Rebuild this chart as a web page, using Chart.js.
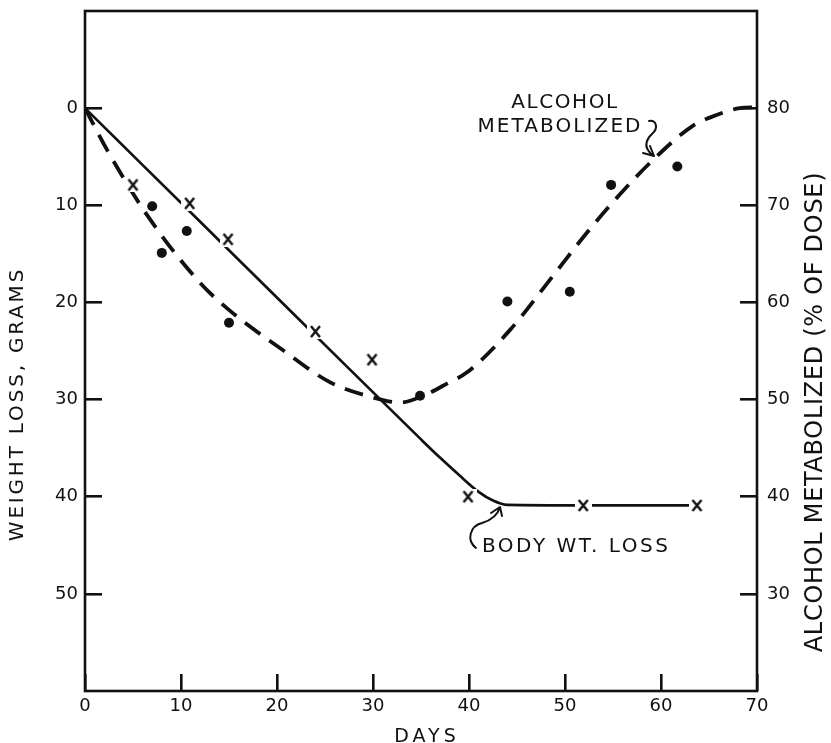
<!DOCTYPE html>
<html>
<head>
<meta charset="utf-8">
<title>Weight loss and alcohol metabolized</title>
<script src="https://cdn.jsdelivr.net/npm/chart.js@4/dist/chart.umd.min.js"></script>
<style>
  html, body { margin: 0; padding: 0; background: #fff; }
  canvas { display: block; }
</style>
</head>
<body>
<canvas id="chart" width="831" height="743"></canvas>
<script>
// Days on which body weight was recorded, and cumulative loss (grams)
const weightDays = [5.0, 10.9, 14.9, 24.0, 29.9, 39.9, 51.9, 63.75];
const weightLoss = [7.9, 9.8, 13.5, 23.0, 25.9, 40.0, 40.9, 40.9];

// Days on which alcohol metabolism was measured (% of dose)
const alcoholDays = [7.0, 8.0, 10.6, 15.0, 34.9, 44.0, 50.5, 54.8, 61.7];
const alcoholPct  = [69.9, 65.1, 67.35, 57.9, 50.4, 60.1, 61.1, 72.1, 74.0];

// Hand-drawn trend through the weight-loss readings
const weightCurveDays = [0, 12, 24, 35, 37, 39, 41, 42.5, 44, 52, 63.75];
const weightCurveLoss = [0, 11.7, 23.4, 34.1, 36.0, 37.8, 39.5, 40.4, 40.85, 40.9, 40.9];

// Hand-drawn trend through the alcohol readings
const alcoholCurveDays = [0, 2.3, 6.6, 12.0, 15.4, 20.6, 25.5, 29.7, 32.8, 35.9, 37.8, 39.8, 44.3, 48.8, 52.3, 55.7, 59.2, 63.2, 65.8, 68.2, 70];
const alcoholCurvePct  = [80, 75.7, 68.8, 62.0, 58.9, 55.1, 51.8, 50.3, 49.7, 50.7, 51.7, 52.8, 57.2, 62.8, 67.2, 71.1, 74.7, 78.1, 79.3, 80.0, 80.1];

// Axis ticks
const dayTicks     = [0, 10, 20, 30, 40, 50, 60, 70];
const weightTicks  = [0, 10, 20, 30, 40, 50];
const alcoholTicks = [30, 40, 50, 60, 70, 80];

const INK = '#111';
const FONT = '"DejaVu Sans", "Liberation Sans", sans-serif';

const toPoints = (xs, ys) => xs.map((x, i) => ({ x: x, y: ys[i] }));

// "x" marker on a white patch so the trend line breaks around it
function makeCrossMark() {
  const c = document.createElement('canvas');
  c.width = 17; c.height = 15;
  const g = c.getContext('2d');
  g.fillStyle = '#fff';
  g.fillRect(0, 0, 17, 15);
  g.strokeStyle = INK;
  g.lineWidth = 2.4;
  g.beginPath();
  g.moveTo(4, 2); g.lineTo(13, 13);
  g.moveTo(13, 2); g.lineTo(4, 13);
  g.stroke();
  return c;
}

function drawText(ctx, text, x, y, o) {
  ctx.save();
  ctx.font = o.size + 'px ' + FONT;
  ctx.letterSpacing = (o.spacing || 0) + 'px';
  ctx.fillStyle = INK;
  ctx.textAlign = o.align || 'center';
  ctx.textBaseline = o.baseline || 'alphabetic';
  ctx.translate(x, y);
  if (o.rotate) ctx.rotate(o.rotate);
  ctx.fillText(text, 0, 0);
  ctx.restore();
}

// Frame, axis titles and curve labels
const decorations = {
  id: 'decorations',
  afterDraw(chart) {
    const ctx = chart.ctx;
    const a = chart.chartArea;
    ctx.save();
    ctx.strokeStyle = INK;
    ctx.lineWidth = 2.6;
    ctx.strokeRect(a.left, a.top, a.right - a.left, a.bottom - a.top);
    ctx.restore();

    drawText(ctx, 'WEIGHT LOSS, GRAMS', 17.5, 404, { size: 20, spacing: 2.8, baseline: 'middle', rotate: -Math.PI / 2 });
    drawText(ctx, 'ALCOHOL METABOLIZED (% OF DOSE)', 816, 412, { size: 24, spacing: 0.7, baseline: 'middle', rotate: -Math.PI / 2 });
    drawText(ctx, 'DAYS', 427, 742, { size: 19, spacing: 4 });

    drawText(ctx, 'ALCOHOL', 565, 108, { size: 20, spacing: 1.6 });
    drawText(ctx, 'METABOLIZED', 560, 132, { size: 20, spacing: 2.1 });
    drawText(ctx, 'BODY WT. LOSS', 482, 552, { size: 20, spacing: 2.5, align: 'left' });

    ctx.save();
    ctx.strokeStyle = INK;
    ctx.lineWidth = 2;
    ctx.lineCap = 'round';
    ctx.lineJoin = 'round';
    // squiggle from the alcohol label down to its curve
    ctx.beginPath();
    ctx.moveTo(649, 121);
    ctx.bezierCurveTo(656, 119, 659, 128, 652, 134);
    ctx.bezierCurveTo(646, 139, 645, 146, 648, 150);
    ctx.quadraticCurveTo(650, 154, 654, 156);
    ctx.moveTo(643, 153); ctx.lineTo(654, 156); ctx.lineTo(650, 146);
    ctx.stroke();
    // curl from the weight label up to its curve
    ctx.beginPath();
    ctx.moveTo(476, 548);
    ctx.bezierCurveTo(466, 540, 470, 526, 482, 523);
    ctx.bezierCurveTo(492, 520, 498, 514, 500, 507);
    ctx.moveTo(491, 513); ctx.lineTo(500, 507); ctx.lineTo(502, 516);
    ctx.stroke();
    ctx.restore();
  }
};

const tickFont = { family: FONT, size: 18 };
const tickGrid = { drawOnChartArea: false, drawTicks: true, tickLength: -17, lineWidth: 2.6, color: INK };
const resetPadding = s => { s.paddingTop = 0; s.paddingBottom = 0; s.paddingLeft = 0; s.paddingRight = 0; };

new Chart(document.getElementById('chart'), {
  type: 'scatter',
  data: {
    datasets: [
      {
        label: 'Body weight loss (readings)',
        data: toPoints(weightDays, weightLoss),
        yAxisID: 'yW',
        pointStyle: makeCrossMark(),
        pointRadius: 6,
        order: 0
      },
      {
        label: 'Alcohol metabolized (readings)',
        data: toPoints(alcoholDays, alcoholPct),
        yAxisID: 'yA',
        pointStyle: 'circle',
        pointRadius: 5,
        pointBackgroundColor: INK,
        pointBorderWidth: 0,
        order: 0
      },
      {
        label: 'Body wt. loss',
        data: toPoints(weightCurveDays, weightCurveLoss),
        yAxisID: 'yW',
        showLine: true,
        borderColor: INK,
        borderWidth: 2.7,
        pointRadius: 0,
        cubicInterpolationMode: 'monotone',
        fill: false,
        order: 1
      },
      {
        label: 'Alcohol metabolized',
        data: toPoints(alcoholCurveDays, alcoholCurvePct),
        yAxisID: 'yA',
        showLine: true,
        borderColor: INK,
        borderWidth: 3.8,
        borderDash: [19, 11],
        borderCapStyle: 'butt',
        pointRadius: 0,
        cubicInterpolationMode: 'monotone',
        fill: false,
        order: 1
      }
    ]
  },
  options: {
    responsive: false,
    devicePixelRatio: 1,
    animation: false,
    layout: { padding: { top: 11, left: 0, right: 0, bottom: 0 } },
    plugins: { legend: { display: false }, tooltip: { enabled: false } },
    scales: {
      x: {
        type: 'linear',
        min: 0, max: 70,
        afterBuildTicks: s => { s.ticks = dayTicks.map(v => ({ value: v })); },
        afterFit: s => { s.height = 52; resetPadding(s); },
        ticks: { font: tickFont, color: INK, padding: 22, maxRotation: 0 },
        grid: tickGrid,
        border: { display: false }
      },
      yW: {
        type: 'linear',
        position: 'left',
        reverse: true,
        min: -10, max: 60,
        afterBuildTicks: s => { s.ticks = weightTicks.map(v => ({ value: v })); },
        afterFit: s => { s.width = 85; resetPadding(s); },
        ticks: { font: tickFont, color: INK, padding: 24 },
        grid: tickGrid,
        border: { display: false }
      },
      yA: {
        type: 'linear',
        position: 'right',
        min: 20, max: 90,
        afterBuildTicks: s => { s.ticks = alcoholTicks.map(v => ({ value: v })); },
        afterFit: s => { s.width = 74; resetPadding(s); },
        ticks: { font: tickFont, color: INK, padding: 27 },
        grid: tickGrid,
        border: { display: false }
      }
    }
  },
  plugins: [decorations]
});
</script>
</body>
</html>
